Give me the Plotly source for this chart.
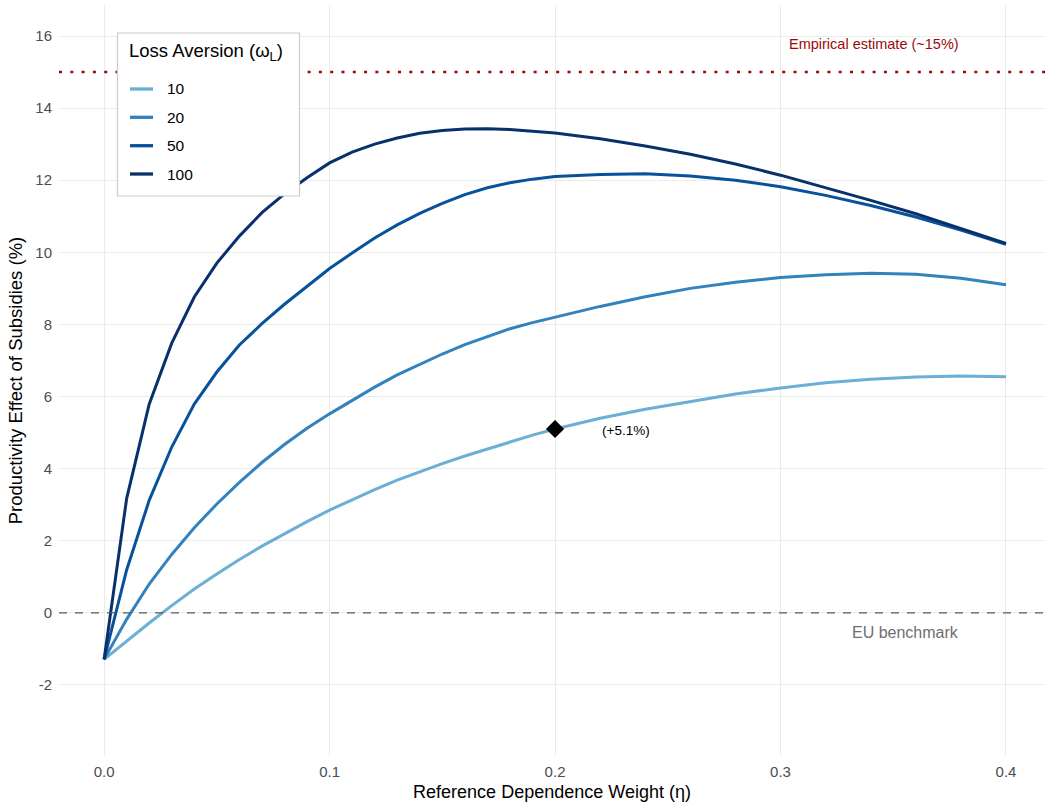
import plotly.graph_objects as go

eta = [0.00, 0.01, 0.02, 0.03, 0.04, 0.05, 0.06, 0.07, 0.08, 0.09,
       0.10, 0.11, 0.12, 0.13, 0.14, 0.15, 0.16, 0.17, 0.18, 0.19,
       0.20, 0.22, 0.24, 0.26, 0.28, 0.30, 0.32, 0.34, 0.36, 0.38, 0.40]

effect_10 = [-1.29, -0.78, -0.28, 0.20, 0.66, 1.08, 1.48, 1.85, 2.20, 2.53,
             2.85, 3.14, 3.42, 3.68, 3.92, 4.14, 4.35, 4.55, 4.74, 4.93,
             5.10, 5.40, 5.65, 5.87, 6.07, 6.24, 6.38, 6.48, 6.54, 6.57, 6.55]
effect_20 = [-1.29, -0.18, 0.80, 1.62, 2.36, 3.02, 3.62, 4.17, 4.67, 5.12,
             5.52, 5.90, 6.26, 6.60, 6.90, 7.18, 7.44, 7.67, 7.88, 8.05,
             8.20, 8.50, 8.77, 9.00, 9.17, 9.30, 9.38, 9.42, 9.39, 9.28, 9.10]
effect_50 = [-1.29, 1.19, 3.12, 4.60, 5.79, 6.68, 7.43, 8.02, 8.56, 9.06,
             9.55, 9.98, 10.40, 10.76, 11.08, 11.36, 11.60, 11.79, 11.93, 12.03,
             12.10, 12.16, 12.18, 12.12, 12.00, 11.82, 11.58, 11.30, 10.98, 10.62, 10.22]
effect_100 = [-1.29, 3.17, 5.79, 7.48, 8.76, 9.70, 10.45, 11.10, 11.62, 12.07,
              12.48, 12.78, 13.00, 13.17, 13.30, 13.38, 13.42, 13.43, 13.41, 13.37,
              13.31, 13.15, 12.95, 12.72, 12.45, 12.14, 11.80, 11.44, 11.07, 10.67, 10.25]

series_names = ["10", "20", "50", "100"]
series_values = [effect_10, effect_20, effect_50, effect_100]
series_colors = ["#6BAED6", "#3182BD", "#08519C", "#08306B"]

empirical_level = 15
eu_benchmark = 0
highlight_eta = 0.2
highlight_value = 5.1
highlight_label = "(+5.1%)"
label_x = 0.38

x_ticks = [0.0, 0.1, 0.2, 0.3, 0.4]
x_ticklabels = ["0.0", "0.1", "0.2", "0.3", "0.4"]
y_ticks = [-2, 0, 2, 4, 6, 8, 10, 12, 14, 16]
y_ticklabels = ["-2", "0", "2", "4", "6", "8", "10", "12", "14", "16"]

FONT = "Liberation Sans, Arial, Helvetica, sans-serif"

W, H = 1045, 809
ML, MR, MT, MB = 59, 0, 5, 53
PW, PH = W - ML - MR, H - MT - MB


def px_x(p):
    return (p - ML) / PW


def px_y(p):
    return (H - MB - p) / PH


fig = go.Figure()

for name, vals, col in zip(series_names, series_values, series_colors):
    fig.add_trace(go.Scatter(
        x=eta, y=vals, mode="lines", name=name,
        line=dict(color=col, width=3),
        showlegend=False,
    ))

fig.add_trace(go.Scatter(
    x=[highlight_eta], y=[highlight_value], mode="markers",
    marker=dict(symbol="diamond", size=14, color="black"),
    showlegend=False, hoverinfo="skip",
))

fig.add_hline(y=empirical_level, line=dict(color="#9B0A0A", width=2.6, dash="3px,8.3px"))
fig.add_hline(y=eu_benchmark, line=dict(color="#5A5A5A", width=1.3, dash="8px,8px"))

fig.add_annotation(x=label_x, y=15.78, text="Empirical estimate (~15%)", xanchor="right",
                   showarrow=False, font=dict(family=FONT, size=14.5, color="#9B0A0A"))
fig.add_annotation(x=label_x, y=-0.55, text="EU benchmark", xanchor="right",
                   showarrow=False, font=dict(family=FONT, size=16, color="#6E6E6E"))
fig.add_annotation(x=0.22, y=5.07, text=highlight_label, xanchor="left",
                   showarrow=False, font=dict(family=FONT, size=13.5, color="black"))

# manual legend (ggplot-style boxed legend)
fig.add_shape(type="rect", xref="paper", yref="paper",
              x0=px_x(117.5), x1=px_x(299.5), y0=px_y(196), y1=px_y(33),
              line=dict(color="#CCCCCC", width=1.2), fillcolor="white", layer="above")
fig.add_annotation(xref="paper", yref="paper", x=px_x(127), y=px_y(52),
                   text="Loss Aversion (ω<sub>L</sub>)", xanchor="left", yanchor="middle",
                   showarrow=False, font=dict(family=FONT, size=18.5, color="black"))
item_y = [89, 117.3, 145.7, 174]
for name, col, yy in zip(series_names, series_colors, item_y):
    fig.add_shape(type="line", xref="paper", yref="paper",
                  x0=px_x(130), x1=px_x(153), y0=px_y(yy), y1=px_y(yy),
                  line=dict(color=col, width=3.3), layer="above")
    fig.add_annotation(xref="paper", yref="paper", x=px_x(165), y=px_y(yy),
                       text=name, xanchor="left", yanchor="middle",
                       showarrow=False, font=dict(family=FONT, size=15.5, color="black"))

fig.update_layout(
    width=W, height=H,
    margin=dict(l=ML, r=MR, t=MT, b=MB),
    paper_bgcolor="white", plot_bgcolor="white",
    font=dict(family=FONT),
    showlegend=False,
    xaxis=dict(
        range=[-0.02, 0.4173],
        tickvals=x_ticks, ticktext=x_ticklabels,
        showgrid=True, gridcolor="#EBEBEB", gridwidth=1.2,
        zeroline=False, showline=False, ticks="",
        ticklabelstandoff=5,
        tickfont=dict(size=15, color="#4D4D4D"),
        title=dict(text="Reference Dependence Weight (η)",
                   font=dict(size=18, color="black"), standoff=6),
    ),
    yaxis=dict(
        range=[-3.97, 16.86],
        tickvals=y_ticks, ticktext=y_ticklabels,
        showgrid=True, gridcolor="#EBEBEB", gridwidth=1.2,
        zeroline=False, showline=False, ticks="",
        ticklabelstandoff=6,
        tickfont=dict(size=15, color="#4D4D4D"),
        title=dict(text="Productivity Effect of Subsidies (%)",
                   font=dict(size=18.5, color="black"), standoff=7),
    ),
)

fig.write_html("out.html")
